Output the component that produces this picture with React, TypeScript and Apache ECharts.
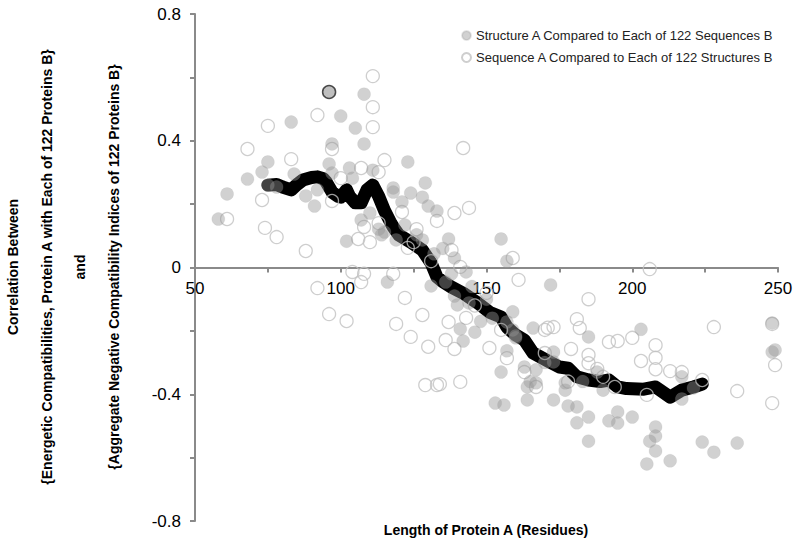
import React, { useEffect, useRef } from "react";
import * as echarts from "echarts";

const FONT = '"Liberation Sans", Arial, sans-serif';

const seriesNames = [
  "Structure A Compared to Each of 122 Sequences B",
  "Sequence A Compared to Each of 122 Structures B",
];

const xTitle = "Length of Protein A (Residues)";
const yTitleLines = [
  "Correlation Between",
  "{Energetic Compatibilities, Protein A with Each of 122 Proteins B}",
  "and",
  "{Aggregate Negative Compatibility Indices of 122 Proteins B}",
];

// Structure A vs sequences B (filled grey circles)
const structurePoints: [number, number][] = [
  [108, 0.547], [83, 0.459], [100, 0.478], [105, 0.44], [108, 0.39], [97, 0.39],
  [75, 0.333], [96, 0.327], [73, 0.301], [68, 0.279], [61, 0.232], [58, 0.153],
  [84, 0.295], [97, 0.298], [103, 0.314], [104, 0.282], [111, 0.307], [78, 0.254],
  [75, 0.26], [92, 0.245], [88, 0.226], [91, 0.194], [110, 0.172], [107, 0.15],
  [113, 0.121], [114, 0.103], [102, 0.083], [118, 0.251], [123, 0.333], [118, 0.238],
  [124, 0.235], [129, 0.267], [128, 0.222], [121, 0.207], [130, 0.194], [133, 0.178],
  [122, 0.134], [115, 0.112], [119, 0.087], [137, 0.09], [128, 0.087], [126, 0.103],
  [132, 0.043], [139, 0.03], [155, 0.09], [157, 0.02], [143, -0.014], [116, -0.046],
  [131, -0.058], [136, -0.046], [139, -0.09], [140, -0.118], [144, -0.112], [159, -0.14],
  [172, -0.055], [141, -0.194], [146, -0.204], [166, -0.191], [157, -0.172], [159, -0.197],
  [160, -0.216], [142, -0.232], [157, -0.263], [160, -0.222], [155, -0.33], [163, -0.314],
  [167, -0.323], [173, -0.267], [173, -0.298], [164, -0.377], [167, -0.364], [164, -0.418],
  [153, -0.428], [156, -0.434], [173, -0.418], [177, -0.387], [178, -0.437], [181, -0.44],
  [181, -0.49], [203, -0.195], [185, -0.219], [217, -0.345], [217, -0.415], [190, -0.387],
  [177, -0.364], [185, -0.472], [195, -0.456], [192, -0.484], [195, -0.491], [200, -0.472],
  [208, -0.503], [208, -0.532], [206, -0.548], [208, -0.579], [205, -0.62], [213, -0.61],
  [185, -0.548], [224, -0.551], [228, -0.583], [236, -0.554], [248, -0.175], [248, -0.267],
  [249, -0.26], [135, 0.06], [138, -0.02], [145, -0.06], [150, -0.1], [152, -0.16],
  [148, -0.17], [165, -0.36], [170, -0.3], [183, -0.36], [188, -0.33], [221, -0.38],
];

const highlightPoint: [number, number] = [96, 0.554];

// Sequence A vs structures B (open circles)
const sequencePoints: [number, number][] = [
  [111, 0.604], [111, 0.506], [111, 0.443], [92, 0.481], [75, 0.447], [68, 0.374],
  [83, 0.342], [97, 0.374], [115, 0.339], [100, 0.282], [107, 0.314], [113, 0.301],
  [73, 0.213], [61, 0.153], [74, 0.125], [78, 0.096], [88, 0.052], [97, 0.21],
  [106, 0.09], [108, 0.128], [110, 0.08], [113, 0.14], [142, 0.377], [121, 0.175],
  [133, 0.147], [139, 0.172], [144, 0.188], [126, 0.121], [123, 0.062], [138, 0.055],
  [141, 0.002], [159, 0.03], [161, -0.039], [118, -0.02], [122, -0.096], [128, -0.15],
  [119, -0.178], [137, -0.172], [143, -0.159], [173, -0.188], [181, -0.163], [170, -0.197],
  [155, -0.197], [124, -0.219], [92, -0.065], [96, -0.147], [102, -0.169], [104, -0.014],
  [108, -0.02], [107, -0.046], [136, -0.229], [139, -0.257], [151, -0.254], [157, -0.286],
  [141, -0.361], [134, -0.368], [171, -0.19], [179, -0.257], [206, -0.005], [185, -0.1],
  [182, -0.191], [192, -0.235], [195, -0.232], [200, -0.222], [208, -0.245], [208, -0.285],
  [208, -0.321], [203, -0.295], [185, -0.276], [185, -0.302], [213, -0.327], [217, -0.33],
  [224, -0.355], [190, -0.345], [194, -0.377], [205, -0.402], [228, -0.188], [236, -0.39],
  [248, -0.178], [249, -0.308], [248, -0.428], [130, -0.25], [129, -0.371], [133, -0.371],
  [178, -0.36], [167, -0.377], [125, 0.08], [131, 0.02], [146, -0.12], [150, -0.08],
  [163, -0.33], [170, -0.27], [188, -0.32],
];

// Running average (thick black line)
const averageLine: [number, number][] = [
  [75, 0.26], [78, 0.262], [80, 0.254], [83, 0.245], [85, 0.262], [87, 0.276],
  [90, 0.284], [92, 0.286], [94, 0.28], [95, 0.27], [97, 0.238], [99, 0.225],
  [100, 0.222], [102, 0.245], [103, 0.225], [105, 0.204], [107, 0.204], [109, 0.245],
  [111, 0.26], [113, 0.225], [115, 0.18], [117, 0.144], [118, 0.128], [120, 0.102],
  [124, 0.08], [128, 0.055], [131, 0.014], [133, -0.03], [135, -0.045], [138, -0.062],
  [142, -0.081], [145, -0.1], [147, -0.112], [151, -0.141], [155, -0.156], [157, -0.188],
  [160, -0.213], [163, -0.229], [166, -0.27], [172, -0.3], [175, -0.314], [178, -0.318],
  [181, -0.345], [185, -0.355], [189, -0.36], [192, -0.355], [195, -0.377], [198, -0.382],
  [204, -0.384], [208, -0.377], [213, -0.409], [217, -0.387], [221, -0.377], [224, -0.368],
];

const xMin = 50, xMax = 250, xStep = 25, xLabelStep = 50;
const yMin = -0.8, yMax = 0.8, yStep = 0.2;

const GRID_TOP = 14;
const GRID_BOTTOM = 25;
const CHART_H = 546;

export default function App() {
  const ref = useRef<HTMLDivElement>(null);
  useEffect(() => {
    if (!ref.current) return;
    const chart = echarts.init(ref.current, undefined, { renderer: "svg" });
    const axisColor = "#8a8a8a";
    const gridH = CHART_H - GRID_TOP - GRID_BOTTOM;
    // distance from the grid bottom up to the y = 0 line
    const zeroOffset = (gridH * (0 - yMin)) / (yMax - yMin);
    chart.setOption({
      animation: false,
      backgroundColor: "#fff",
      grid: { left: 195, right: 22, top: GRID_TOP, bottom: GRID_BOTTOM, containLabel: false },
      legend: {
        data: seriesNames,
        orient: "vertical",
        left: 456,
        top: 24,
        itemWidth: 9,
        itemHeight: 9,
        itemGap: 9,
        icon: "circle",
        textStyle: { fontSize: 13, color: "#222", fontFamily: FONT },
      },
      xAxis: {
        type: "value",
        position: "bottom",
        offset: -zeroOffset,
        min: xMin,
        max: xMax,
        interval: xStep,
        splitLine: { show: false },
        axisLine: { onZero: false, lineStyle: { color: axisColor, width: 2 } },
        axisTick: { show: true, length: 5, lineStyle: { color: axisColor, width: 2 } },
        axisLabel: {
          margin: 12,
          fontSize: 17,
          color: "#000",
          fontFamily: FONT,
          formatter: (v: number) => (Math.round(v) % xLabelStep === 0 ? String(Math.round(v)) : ""),
        },
      },
      yAxis: {
        type: "value",
        min: yMin,
        max: yMax,
        interval: yStep,
        splitLine: { show: false },
        axisLine: { show: true, onZero: false, lineStyle: { color: axisColor, width: 2 } },
        axisTick: { show: true, length: 5, lineStyle: { color: axisColor, width: 2 } },
        axisLabel: {
          margin: 14,
          fontSize: 17,
          color: "#000",
          fontFamily: FONT,
          formatter: (v: number) => {
            const k = Math.round(v * 10);
            if (k % 4 !== 0) return "";
            const r = k / 10;
            return r === 0 ? "0" : String(r);
          },
        },
      },
      series: [
        {
          name: "avg",
          type: "line",
          data: averageLine,
          symbol: "none",
          z: 1,
          lineStyle: { color: "#000", width: 13, cap: "round", join: "round" },
        },
        {
          name: seriesNames[0],
          type: "scatter",
          z: 3,
          symbolSize: 13,
          itemStyle: { color: "rgba(150,150,150,0.55)", borderColor: "rgba(150,150,150,0.3)", borderWidth: 0.5 },
          data: [
            ...structurePoints,
            {
              value: highlightPoint,
              itemStyle: { color: "rgba(175,175,175,1)", borderColor: "#222", borderWidth: 1.5 },
            },
          ],
        },
        {
          name: seriesNames[1],
          type: "scatter",
          z: 2,
          symbolSize: 13,
          itemStyle: { color: "rgba(255,255,255,0)", borderColor: "#c2c2c2", borderWidth: 1.3 },
          data: sequencePoints,
        },
      ],
      graphic: [
        {
          type: "text",
          x: 486,
          y: 530,
          style: {
            text: xTitle,
            font: `bold 14px ${FONT}`,
            fill: "#000",
            textAlign: "center",
            textVerticalAlign: "middle",
          },
        },
        ...yTitleLines.map((t, i) => ({
          type: "text",
          x: [13, 47, 80, 114][i],
          y: 267,
          rotation: Math.PI / 2,
          style: {
            text: t,
            font: `bold 14px ${FONT}`,
            fill: "#000",
            textAlign: "center",
            textVerticalAlign: "middle",
          },
        })),
      ],
    });
    return () => chart.dispose();
  }, []);
  return (
    <div
      ref={ref}
      style={{ position: "fixed", left: 0, top: 0, width: 800, height: CHART_H }}
    />
  );
}
